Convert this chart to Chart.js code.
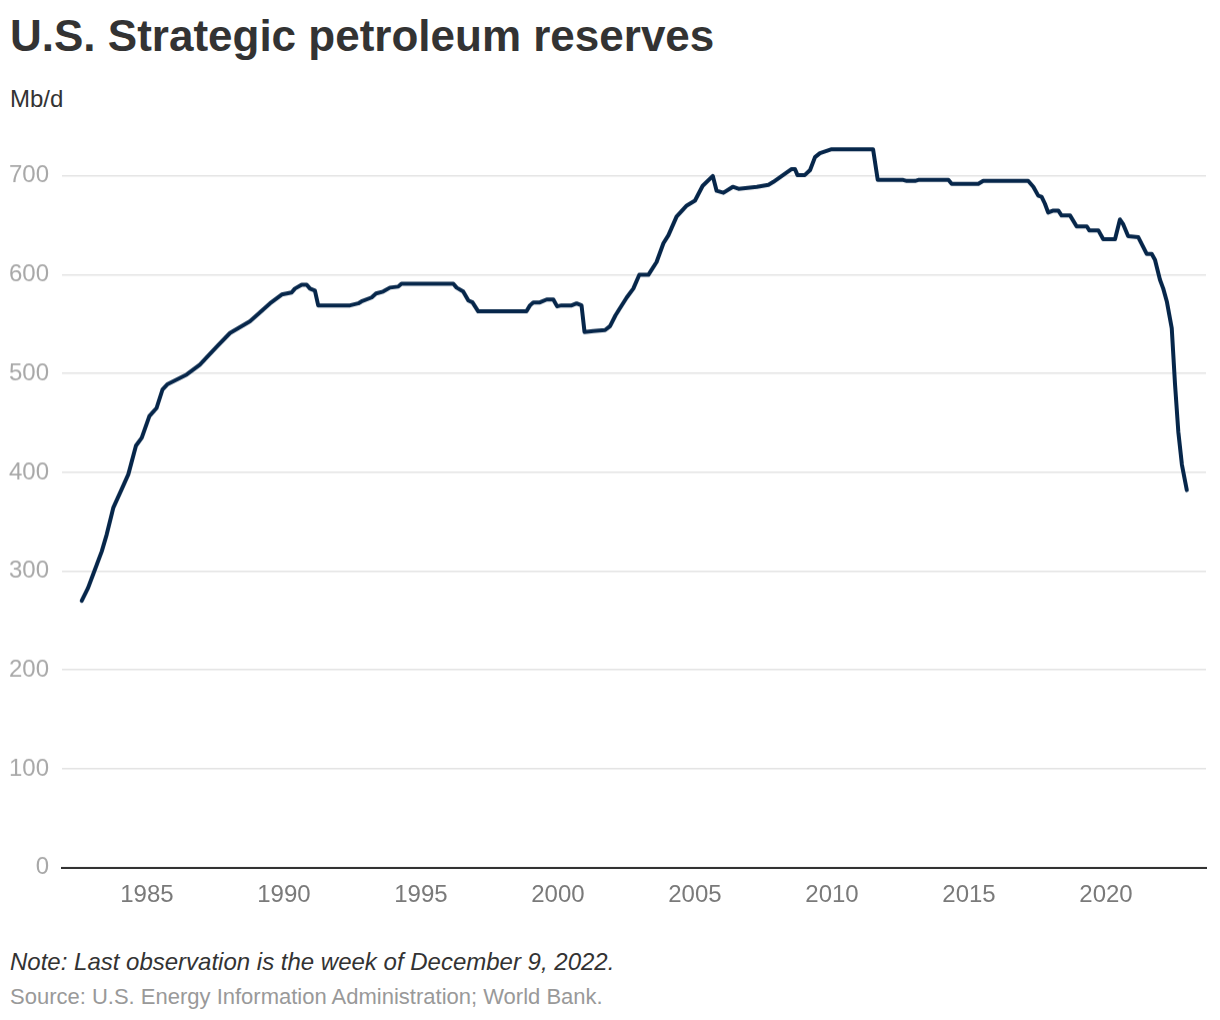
<!DOCTYPE html>
<html lang="en">
  <head>
    <meta charset="UTF-8" />
    <title>U.S. Strategic petroleum reserves</title>
    <script src="https://cdn.jsdelivr.net/npm/chart.js@4.4.0/dist/chart.umd.min.js"></script>
    <style>
      body {
        margin: 0;
        background: #fff;
        font-family: "Liberation Sans", Arial, sans-serif;
      }
      #page {
        position: relative;
        width: 1220px;
        height: 1020px;
      }
      .txt {
        position: absolute;
        left: 10px;
        white-space: nowrap;
      }
      #title {
        top: 10px;
        font-size: 44px;
        line-height: 52px;
        font-weight: bold;
        color: #333;
      }
      #unit {
        top: 85px;
        font-size: 24px;
        line-height: 28px;
        color: #333;
      }
      #note {
        top: 948px;
        font-size: 24px;
        line-height: 28px;
        font-style: italic;
        color: #333;
      }
      #source {
        top: 984px;
        font-size: 22px;
        line-height: 26px;
        color: #999;
      }
      #wrap {
        position: absolute;
        left: 0;
        top: 109.4px;
        width: 1220px;
        height: 807.6px;
      }
    </style>
  </head>
  <body>
    <div id="page">
      <div class="txt" id="title">U.S. Strategic petroleum reserves</div>
      <div class="txt" id="unit">Mb/d</div>
      <div id="wrap"><canvas id="myChart"></canvas></div>
      <div class="txt" id="note">Note: Last observation is the week of December 9, 2022.</div>
      <div class="txt" id="source">Source: U.S. Energy Information Administration; World Bank.</div>
    </div>
    <script>
      // values (decimal year, reserves)
      const years = [
        1982.62, 1982.85, 1983.04, 1983.35, 1983.53, 1983.77, 1984.08, 1984.32, 1984.6, 1984.81,
        1985.09, 1985.35, 1985.57, 1985.74, 1986.45, 1986.93, 1987.54, 1988.03, 1988.76, 1989.49,
        1989.92, 1990.28, 1990.4, 1990.65, 1990.83, 1990.95, 1991.13, 1991.25, 1992.41, 1992.71,
        1992.83, 1993.2, 1993.36, 1993.62, 1993.87, 1994.17, 1994.29, 1996.18, 1996.3, 1996.54,
        1996.73, 1996.88, 1997.09, 1998.85, 1998.98, 1999.1, 1999.34, 1999.59, 1999.83, 1999.97,
        2000.13, 2000.5, 2000.68, 2000.86, 2000.97, 2001.29, 2001.72, 2001.9, 2002.1, 2002.51,
        2002.75, 2002.97, 2003.3, 2003.6, 2003.85, 2004.03, 2004.33, 2004.7, 2005.0, 2005.28,
        2005.65, 2005.79, 2006.04, 2006.38, 2006.59, 2007.26, 2007.68, 2007.86, 2008.22, 2008.53,
        2008.65, 2008.74, 2009.01, 2009.2, 2009.38, 2009.56, 2009.99, 2011.5, 2011.67, 2012.6,
        2012.73, 2013.03, 2013.15, 2014.25, 2014.37, 2015.34, 2015.52, 2017.16, 2017.35, 2017.53,
        2017.65, 2017.77, 2017.89, 2018.08, 2018.26, 2018.38, 2018.69, 2018.93, 2019.3, 2019.39,
        2019.72, 2019.9, 2020.33, 2020.51, 2020.63, 2020.81, 2021.18, 2021.49, 2021.67, 2021.79,
        2021.97, 2022.09, 2022.22, 2022.4, 2022.52, 2022.64, 2022.77, 2022.95,
      ];
      const reserves = [
        270, 283, 297, 320, 337, 364, 383, 398, 427, 435,
        457, 465, 484, 489, 499, 509, 527, 541, 553, 571,
        580, 582, 586, 590, 590, 586, 584, 569, 569, 571,
        573, 577, 581, 583, 587, 588, 591, 591, 587, 583,
        574, 572, 563, 563, 569, 572, 572, 575, 575, 568,
        569, 569, 571, 569, 542, 543, 544, 548, 559, 577,
        586, 600, 600, 613, 632, 640, 659, 670, 675, 690,
        700, 685, 683, 689, 687, 689, 691, 694, 701, 707,
        707, 701, 701, 706, 719, 723, 727, 727, 696, 696,
        695, 695, 696, 696, 692, 692, 695, 695, 689, 680,
        679, 672, 663, 665, 665, 660, 660, 649, 649, 645,
        645, 636, 636, 656, 651, 639, 638, 621, 621, 615,
        595, 586, 573, 546, 489, 441, 408, 382,
      ];
      const yearTicks = [1985, 1990, 1995, 2000, 2005, 2010, 2015, 2020];
      const valueTicks = [0, 100, 200, 300, 400, 500, 600, 700];

      const points = years.map((yr, i) => ({ x: yr, y: reserves[i] }));

      const ctx = document.getElementById("myChart").getContext("2d");
      const myChart = new Chart(ctx, {
        type: "line",
        data: {
          datasets: [
            {
              data: points,
              borderColor: "#06264a",
              borderWidth: 4,
              pointRadius: 0,
              tension: 0,
              borderJoinStyle: "round",
              borderCapStyle: "round",
            },
          ],
        },
        options: {
          responsive: true,
          maintainAspectRatio: false,
          animation: false,
          devicePixelRatio: 1,
          layout: { padding: { top: 10.4, right: 14, left: 0, bottom: 0 } },
          plugins: { legend: { display: false }, tooltip: { enabled: false } },
          scales: {
            x: {
              type: "linear",
              min: 1981.9,
              max: 2023.65,
              afterBuildTicks: (axis) => {
                axis.ticks = yearTicks.map((v) => ({ value: v }));
              },
              afterFit: (axis) => {
                axis.height = 50;
              },
              grid: { display: false, drawTicks: false },
              border: { display: true, color: "#333", width: 2 },
              ticks: {
                color: "#7a7a7a",
                padding: 13,
                maxRotation: 0,
                font: { family: "Liberation Sans", size: 24 },
                callback: (v) => String(v),
              },
            },
            y: {
              min: 0,
              max: 740,
              afterBuildTicks: (axis) => {
                axis.ticks = valueTicks.map((v) => ({ value: v }));
              },
              afterFit: (axis) => {
                axis.width = 62;
              },
              grid: { color: "#e3e3e3", lineWidth: 1.5, drawTicks: false },
              border: { display: false },
              ticks: {
                color: "#a8a8a8",
                padding: 13,
                font: { family: "Liberation Sans", size: 24 },
              },
            },
          },
        },
      });
    </script>
  </body>
</html>
